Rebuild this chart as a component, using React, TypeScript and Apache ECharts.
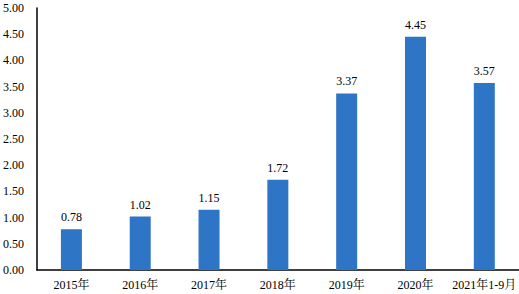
import React, { useEffect, useRef } from "react";
import * as echarts from "echarts";

const categories = ["2015年", "2016年", "2017年", "2018年", "2019年", "2020年", "2021年1-9月"];
const values = [0.78, 1.02, 1.15, 1.72, 3.37, 4.45, 3.57];
const FONT = "'Liberation Serif', 'Times New Roman', 'Noto Serif CJK SC', 'Noto Sans CJK SC', serif";

export default function App() {
  const ref = useRef<HTMLDivElement>(null);
  useEffect(() => {
    if (!ref.current) return;
    const chart = echarts.init(ref.current, undefined, { renderer: "svg" });
    chart.setOption({
      animation: false,
      backgroundColor: "#ffffff",
      grid: { left: 36, top: 8, width: 486, height: 262, containLabel: false },
      xAxis: {
        type: "category",
        data: categories,
        axisLine: { show: true, lineStyle: { color: "#000", width: 1.5 } },
        axisTick: { show: false },
        axisLabel: { color: "#000", fontFamily: FONT, fontSize: 12, margin: 9, interval: 0 },
      },
      yAxis: {
        type: "value",
        min: 0,
        max: 5,
        interval: 0.5,
        axisLine: { show: true, lineStyle: { color: "#000", width: 1.5 } },
        axisTick: { show: false },
        splitLine: { show: false },
        axisLabel: {
          color: "#000",
          fontFamily: FONT,
          fontSize: 12,
          margin: 13,
          formatter: (v: number) => v.toFixed(2),
        },
      },
      series: [
        {
          type: "bar",
          data: values,
          barWidth: 21,
          itemStyle: { color: "#2E75C6" },
          label: {
            show: true,
            position: "top",
            distance: 6,
            color: "#000",
            fontFamily: FONT,
            fontSize: 12,
            formatter: (p: any) => Number(p.value).toFixed(2),
          },
        },
      ],
    });
    return () => chart.dispose();
  }, []);
  return (
    <div
      ref={ref}
      style={{ position: "fixed", left: 0, top: 0, width: 519, height: 294, background: "#fff" }}
    />
  );
}
